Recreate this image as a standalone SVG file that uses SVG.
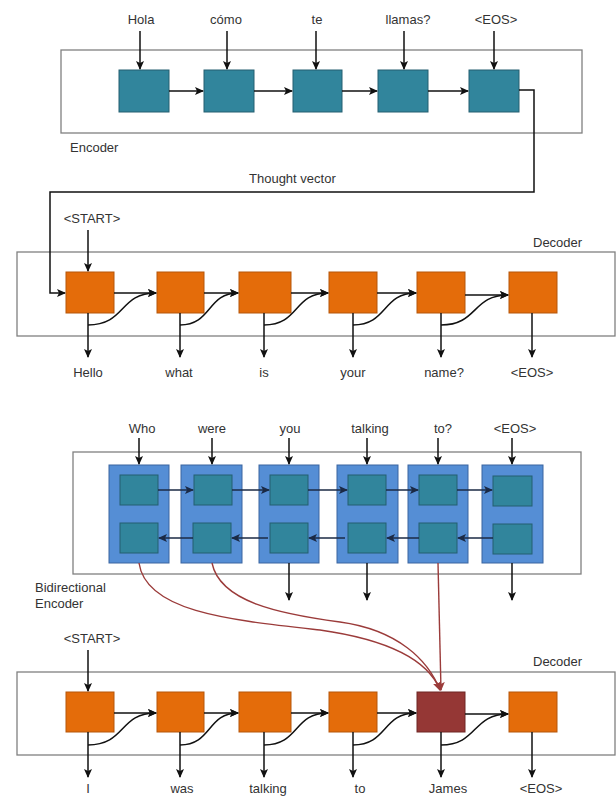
<svg xmlns="http://www.w3.org/2000/svg" width="616" height="798" viewBox="0 0 616 798">
<style>
text{font-family:"Liberation Sans",Arial,sans-serif;font-size:13px;fill:#333}
.m{text-anchor:middle}
.frame{fill:#fff;stroke:#808080;stroke-width:1.3}
.teal{fill:#31859C;stroke:#245f70;stroke-width:1}
.orange{fill:#E46C0A;stroke:#b5560a;stroke-width:1}
.dred{fill:#953735;stroke:#6e2725;stroke-width:1}
.blue{fill:#558ED5;stroke:#3a65a0;stroke-width:1}
.a{fill:none;stroke:#111;stroke-width:1.5}
.b{fill:none;stroke:#1b2a45;stroke-width:1.5}
.r{fill:none;stroke:#9b3b3a;stroke-width:1.4}
</style>
<defs>
<marker id="ah" markerUnits="userSpaceOnUse" markerWidth="9" markerHeight="8" refX="8" refY="4" orient="auto"><path d="M0,0 L9,4 L0,8 L2,4 z" fill="#111"/></marker>
<marker id="ahb" markerUnits="userSpaceOnUse" markerWidth="9" markerHeight="8" refX="8" refY="4" orient="auto"><path d="M0,0 L9,4 L0,8 L2,4 z" fill="#1b2a45"/></marker>
<marker id="ahr" markerUnits="userSpaceOnUse" markerWidth="9" markerHeight="8" refX="8" refY="4" orient="auto"><path d="M0,0 L9,4 L0,8 L2,4 z" fill="#9b3b3a"/></marker>
</defs>

<g id="frames">
<rect class="frame" x="61" y="50" width="521" height="83"/>
<rect class="frame" x="17" y="252" width="598" height="84"/>
<rect class="frame" x="73" y="452" width="508" height="122"/>
<rect class="frame" x="17" y="672" width="598" height="83"/>
</g>

<g id="labels">
<text x="70" y="152">Encoder</text>
<text x="249" y="183">Thought vector</text>
<text x="533" y="247">Decoder</text>
<text x="35" y="592">Bidirectional</text>
<text x="35" y="608">Encoder</text>
<text x="533" y="666">Decoder</text>
<text class="m" x="141" y="24">Hola</text>
<text class="m" x="226" y="24">cómo</text>
<text class="m" x="317" y="24">te</text>
<text class="m" x="408" y="24">llamas?</text>
<text class="m" x="496" y="24">&lt;EOS&gt;</text>
<text class="m" x="92" y="223">&lt;START&gt;</text>
<text class="m" x="88" y="377">Hello</text>
<text class="m" x="179" y="377">what</text>
<text class="m" x="264" y="377">is</text>
<text class="m" x="353" y="377">your</text>
<text class="m" x="444" y="377">name?</text>
<text class="m" x="532" y="377">&lt;EOS&gt;</text>
<text class="m" x="142" y="433">Who</text>
<text class="m" x="212" y="433">were</text>
<text class="m" x="290" y="433">you</text>
<text class="m" x="370" y="433">talking</text>
<text class="m" x="443" y="433">to?</text>
<text class="m" x="515" y="433">&lt;EOS&gt;</text>
<text class="m" x="92" y="643">&lt;START&gt;</text>
<text class="m" x="88" y="793">I</text>
<text class="m" x="182" y="793">was</text>
<text class="m" x="268" y="793">talking</text>
<text class="m" x="360" y="793">to</text>
<text class="m" x="448" y="793">James</text>
<text class="m" x="541" y="793">&lt;EOS&gt;</text>
</g>

<g id="enc1"><rect class="teal" x="119" y="70" width="50" height="42"/></g>
<g id="enc2"><rect class="teal" x="204" y="70" width="50" height="42"/></g>
<g id="enc3"><rect class="teal" x="293" y="70" width="49" height="42"/></g>
<g id="enc4"><rect class="teal" x="378" y="70" width="50" height="42"/></g>
<g id="enc5"><rect class="teal" x="469" y="70" width="50" height="42"/></g>

<g id="dec1"><rect class="orange" x="66" y="272" width="48" height="41"/></g>
<g id="dec2"><rect class="orange" x="157" y="272" width="47" height="41"/></g>
<g id="dec3"><rect class="orange" x="239" y="272" width="52" height="41"/></g>
<g id="dec4"><rect class="orange" x="329" y="272" width="48" height="41"/></g>
<g id="dec5"><rect class="orange" x="417" y="272" width="48" height="41"/></g>
<g id="dec6"><rect class="orange" x="509" y="272" width="48" height="41"/></g>

<g id="bi1"><rect class="blue" x="109" y="465" width="60" height="98"/><rect class="teal" x="120" y="475" width="38" height="30"/><rect class="teal" x="120" y="523" width="38" height="30"/></g>
<g id="bi2"><rect class="blue" x="181" y="465" width="61" height="98"/><rect class="teal" x="194" y="475" width="38" height="30"/><rect class="teal" x="193" y="523" width="38" height="30"/></g>
<g id="bi3"><rect class="blue" x="259" y="465" width="60" height="98"/><rect class="teal" x="270" y="475" width="38" height="30"/><rect class="teal" x="270" y="523" width="38" height="30"/></g>
<g id="bi4"><rect class="blue" x="337" y="465" width="61" height="98"/><rect class="teal" x="348" y="475" width="38" height="30"/><rect class="teal" x="348" y="523" width="38" height="30"/></g>
<g id="bi5"><rect class="blue" x="408" y="465" width="60" height="98"/><rect class="teal" x="419" y="475" width="38" height="30"/><rect class="teal" x="419" y="523" width="38" height="30"/></g>
<g id="bi6"><rect class="blue" x="482" y="465" width="61" height="98"/><rect class="teal" x="493" y="476" width="39" height="30"/><rect class="teal" x="493" y="524" width="39" height="30"/></g>

<g id="dd1"><rect class="orange" x="66" y="692" width="48" height="40"/></g>
<g id="dd2"><rect class="orange" x="157" y="692" width="47" height="40"/></g>
<g id="dd3"><rect class="orange" x="239" y="692" width="52" height="40"/></g>
<g id="dd4"><rect class="orange" x="329" y="692" width="48" height="40"/></g>
<g id="dd5"><rect class="dred" x="417" y="692" width="48" height="40"/></g>
<g id="dd6"><rect class="orange" x="509" y="692" width="48" height="40"/></g>

<g id="connectors">
<path class="a" d="M140,31 V69" marker-end="url(#ah)"/>
<path class="a" d="M227,31 V69" marker-end="url(#ah)"/>
<path class="a" d="M316,31 V69" marker-end="url(#ah)"/>
<path class="a" d="M404,31 V69" marker-end="url(#ah)"/>
<path class="a" d="M494,31 V69" marker-end="url(#ah)"/>
<path class="a" d="M169,91 H203" marker-end="url(#ah)"/>
<path class="a" d="M254,91 H292" marker-end="url(#ah)"/>
<path class="a" d="M342,91 H377" marker-end="url(#ah)"/>
<path class="a" d="M428,91 H468" marker-end="url(#ah)"/>
<path class="a" d="M519,90 H534 V192 H50 V293 H65" marker-end="url(#ah)"/>
<path class="a" d="M88,230 V271" marker-end="url(#ah)"/>
<path class="a" d="M114,293 H156" marker-end="url(#ah)"/>
<path class="a" d="M204,293 H238" marker-end="url(#ah)"/>
<path class="a" d="M291,293 H328" marker-end="url(#ah)"/>
<path class="a" d="M377,293 H416" marker-end="url(#ah)"/>
<path class="a" d="M465,295 H508" marker-end="url(#ah)"/>
<path class="a" d="M88,325 C126,325 119,293 156,293" marker-end="url(#ah)"/>
<path class="a" d="M180,325 C212,325 207,293 238,293" marker-end="url(#ah)"/>
<path class="a" d="M264,325 C300,325 293,293 328,293" marker-end="url(#ah)"/>
<path class="a" d="M353,325 C388,325 382,293 416,293" marker-end="url(#ah)"/>
<path class="a" d="M441,325 C478,325 472,295 508,295" marker-end="url(#ah)"/>
<path class="a" d="M88,313 V357" marker-end="url(#ah)"/>
<path class="a" d="M180,313 V357" marker-end="url(#ah)"/>
<path class="a" d="M264,313 V357" marker-end="url(#ah)"/>
<path class="a" d="M353,313 V357" marker-end="url(#ah)"/>
<path class="a" d="M441,313 V357" marker-end="url(#ah)"/>
<path class="a" d="M532,313 V357" marker-end="url(#ah)"/>
<path class="a" d="M139,438 V464" marker-end="url(#ah)"/>
<path class="a" d="M212,438 V464" marker-end="url(#ah)"/>
<path class="a" d="M289,438 V464" marker-end="url(#ah)"/>
<path class="a" d="M367,438 V464" marker-end="url(#ah)"/>
<path class="a" d="M438,438 V464" marker-end="url(#ah)"/>
<path class="a" d="M512,438 V464" marker-end="url(#ah)"/>
<path class="b" d="M158,490 H193" marker-end="url(#ahb)"/>
<path class="b" d="M232,490 H269" marker-end="url(#ahb)"/>
<path class="b" d="M308,490 H347" marker-end="url(#ahb)"/>
<path class="b" d="M386,490 H418" marker-end="url(#ahb)"/>
<path class="b" d="M457,490 H492" marker-end="url(#ahb)"/>
<path class="b" d="M493,538 H458" marker-end="url(#ahb)"/>
<path class="b" d="M419,538 H387" marker-end="url(#ahb)"/>
<path class="b" d="M345,538 H309" marker-end="url(#ahb)"/>
<path class="b" d="M268,538 H232" marker-end="url(#ahb)"/>
<path class="b" d="M193,538 H159" marker-end="url(#ahb)"/>
<path class="a" d="M289,563 V600" marker-end="url(#ah)"/>
<path class="a" d="M367,563 V600" marker-end="url(#ah)"/>
<path class="a" d="M512,563 V600" marker-end="url(#ah)"/>
<path class="r" d="M139,563 C146,612 230,620 320,630 C390,640 428,660 440,690" marker-end="url(#ahr)"/>
<path class="r" d="M212,563 C220,602 280,614 340,622 C398,630 428,660 440,690" marker-end="url(#ahr)"/>
<path class="r" d="M438,563 L441,690" marker-end="url(#ahr)"/>
<path class="a" d="M88,650 V691" marker-end="url(#ah)"/>
<path class="a" d="M114,713 H156" marker-end="url(#ah)"/>
<path class="a" d="M204,713 H238" marker-end="url(#ah)"/>
<path class="a" d="M291,713 H328" marker-end="url(#ah)"/>
<path class="a" d="M377,713 H416" marker-end="url(#ah)"/>
<path class="a" d="M465,714 H508" marker-end="url(#ah)"/>
<path class="a" d="M88,745 C126,745 119,713 156,713" marker-end="url(#ah)"/>
<path class="a" d="M180,745 C212,745 207,713 238,713" marker-end="url(#ah)"/>
<path class="a" d="M264,745 C300,745 293,713 328,713" marker-end="url(#ah)"/>
<path class="a" d="M353,745 C388,745 382,713 416,713" marker-end="url(#ah)"/>
<path class="a" d="M441,745 C478,745 472,714 508,714" marker-end="url(#ah)"/>
<path class="a" d="M88,732 V777" marker-end="url(#ah)"/>
<path class="a" d="M180,732 V777" marker-end="url(#ah)"/>
<path class="a" d="M264,732 V777" marker-end="url(#ah)"/>
<path class="a" d="M353,732 V777" marker-end="url(#ah)"/>
<path class="a" d="M441,732 V777" marker-end="url(#ah)"/>
<path class="a" d="M532,732 V777" marker-end="url(#ah)"/>
</g>
</svg>
